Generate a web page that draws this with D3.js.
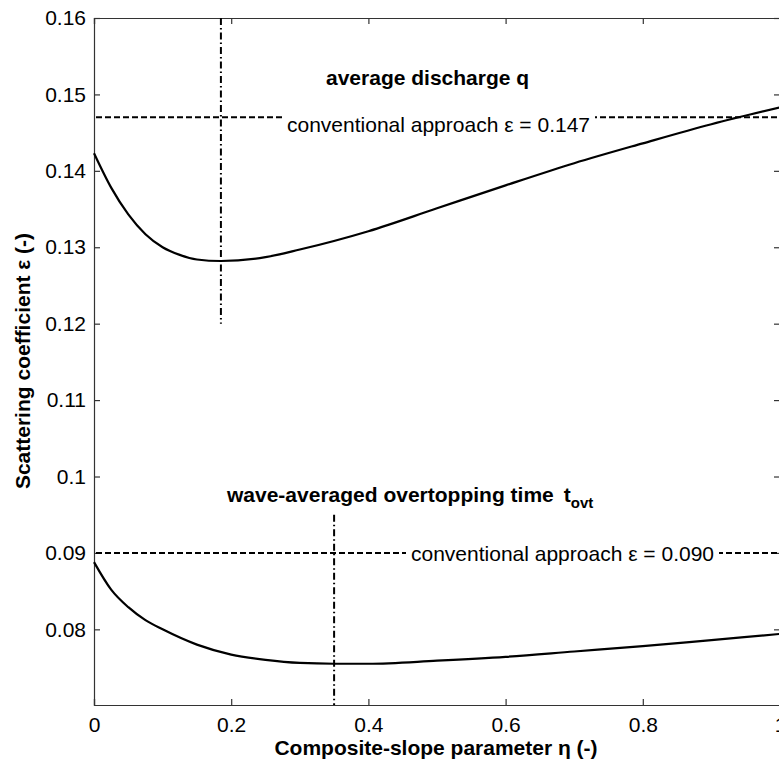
<!DOCTYPE html>
<html>
<head>
<meta charset="utf-8">
<script src="https://cdn.jsdelivr.net/npm/d3@7"></script>
<style>
  html, body { margin: 0; padding: 0; background: #fff; }
  svg { display: block; font-family: "Liberation Sans", Arial, sans-serif; }
</style>
</head>
<body>
<svg id="chart" width="779" height="771"></svg>
<script>
// Composite-slope parameter η
const etaQ = [0, 0.025, 0.05, 0.075, 0.1, 0.125, 0.15, 0.185, 0.25, 0.3, 0.4, 0.5, 0.6, 0.7, 0.8, 0.9, 1.0];
// Scattering coefficient for average discharge q
const epsQ = [0.1423, 0.1378, 0.1343, 0.1317, 0.1300, 0.1290, 0.1284, 0.1282, 0.1287, 0.1297, 0.1321, 0.1351, 0.1381, 0.1410, 0.1436, 0.1461, 0.1483];

const etaT = [0, 0.025, 0.05, 0.075, 0.1, 0.15, 0.2, 0.25, 0.3, 0.35, 0.4, 0.5, 0.6, 0.7, 0.8, 0.9, 1.0];
// Scattering coefficient for wave-averaged overtopping time t_ovt
const epsT = [0.0888, 0.0852, 0.0829, 0.0812, 0.0800, 0.0780, 0.0767, 0.0760, 0.0756, 0.0755, 0.0755, 0.0759, 0.0764, 0.0771, 0.0778, 0.0786, 0.0794];

// Conventional-approach reference values and optimum η markers
const convQ = 0.147, convT = 0.090;
const optEtaQ = 0.185, optEtaT = 0.35;
const optRangeQ = [0.12, 0.16];
const optRangeT = [0.0701, 0.095];

const xTicks = [0, 0.2, 0.4, 0.6, 0.8, 1];
const yTicks = [0.08, 0.09, 0.1, 0.11, 0.12, 0.13, 0.14, 0.15, 0.16];
const xTickLabels = ["0", "0.2", "0.4", "0.6", "0.8", "1"];
const yTickLabels = ["0.08", "0.09", "0.1", "0.11", "0.12", "0.13", "0.14", "0.15", "0.16"];

const svg = d3.select("#chart");
const plotL = 94, plotR = 780, plotT = 18, plotB = 705;

const x = d3.scaleLinear().domain([0, 1]).range([plotL, plotR]);
const y = d3.scaleLinear().domain([0.0701, 0.16]).range([plotB, plotT]);

const frameColor = "#333";
const fontPx = 21;

// Axes with inward ticks on all four sides
const axB = d3.axisBottom(x).tickValues(xTicks).tickSize(-6).tickPadding(12)
  .tickFormat((d, i) => xTickLabels[i]);
const axT = d3.axisTop(x).tickValues(xTicks).tickSize(-6).tickFormat("");
const axL = d3.axisLeft(y).tickValues(yTicks).tickSize(-6).tickPadding(8)
  .tickFormat((d, i) => yTickLabels[i]);
const axR = d3.axisRight(y).tickValues(yTicks).tickSize(-6).tickFormat("");

function styleAxis(g) {
  g.select(".domain").attr("stroke", frameColor).attr("stroke-width", 1.2);
  g.selectAll(".tick line").attr("stroke", frameColor).attr("stroke-width", 1.2);
  g.selectAll(".tick text").attr("fill", "#000").style("font-size", fontPx + "px")
    .style("font-family", "Liberation Sans, Arial, sans-serif");
}

svg.append("g").attr("transform", `translate(0,${plotB})`).call(axB).call(styleAxis);
svg.append("g").attr("transform", `translate(0,${plotT})`).call(axT).call(styleAxis);
svg.append("g").attr("transform", `translate(${plotL},0)`).call(axL).call(styleAxis);
svg.append("g").attr("transform", `translate(${plotR},0)`).call(axR).call(styleAxis);

const line = d3.line().curve(d3.curveMonotoneX);

// Curves
svg.append("path")
  .attr("d", line(etaQ.map((e, i) => [x(e), y(epsQ[i])])))
  .attr("fill", "none").attr("stroke", "#000").attr("stroke-width", 2.2);
svg.append("path")
  .attr("d", line(etaT.map((e, i) => [x(e), y(epsT[i])])))
  .attr("fill", "none").attr("stroke", "#000").attr("stroke-width", 2.2);

// Conventional-approach dashed lines
[convQ, convT].forEach(v => {
  svg.append("line")
    .attr("x1", x(0) + 2).attr("x2", plotR).attr("y1", y(v)).attr("y2", y(v))
    .attr("stroke", "#000").attr("stroke-width", 2).attr("stroke-dasharray", "6,3");
});

// Optimum η dash-dot markers
[[optEtaQ, optRangeQ], [optEtaT, optRangeT]].forEach(([e, r]) => {
  svg.append("line")
    .attr("x1", x(e)).attr("x2", x(e)).attr("y1", y(r[1])).attr("y2", y(r[0]))
    .attr("stroke", "#000").attr("stroke-width", 2).attr("stroke-dasharray", "7,3,1.5,3");
});

// Labels on the dashed lines, with a white backing that breaks the dashes
function lineLabel(x0, cy, v, txt) {
  const t = svg.append("text")
    .attr("x", x0).attr("y", cy).attr("dy", "0.36em")
    .style("font-size", fontPx + "px").text(txt);
  const b = t.node().getBBox();
  svg.append("rect")
    .attr("x", b.x - 5).attr("y", y(v) - 3).attr("width", b.width + 10).attr("height", 6)
    .attr("fill", "#fff");
  t.raise();
}
lineLabel(287, 124, convQ, "conventional approach \u03b5 = 0.147");
lineLabel(411, y(convT) + 1, convT, "conventional approach \u03b5 = 0.090");

// Panel titles
svg.append("text").attr("x", 326).attr("y", 85)
  .style("font-size", fontPx + "px").style("font-weight", "bold")
  .text("average discharge q");

const tt = svg.append("text").attr("x", 227).attr("y", 502)
  .style("font-size", fontPx + "px").style("font-weight", "bold");
tt.append("tspan").text("wave-averaged overtopping time");
tt.append("tspan").attr("dx", 10).text("t");
tt.append("tspan").attr("dy", 6).style("font-size", "15px").text("ovt");

// Axis titles
svg.append("text").attr("x", 436).attr("y", 755)
  .attr("text-anchor", "middle").style("font-size", fontPx + "px").style("font-weight", "bold")
  .text("Composite-slope parameter \u03b7 (-)");
svg.append("text")
  .attr("transform", `translate(22,361) rotate(-90)`)
  .attr("dy", "0.36em")
  .attr("text-anchor", "middle").style("font-size", fontPx + "px").style("font-weight", "bold")
  .text("Scattering coefficient \u03b5 (-)");
</script>
</body>
</html>
